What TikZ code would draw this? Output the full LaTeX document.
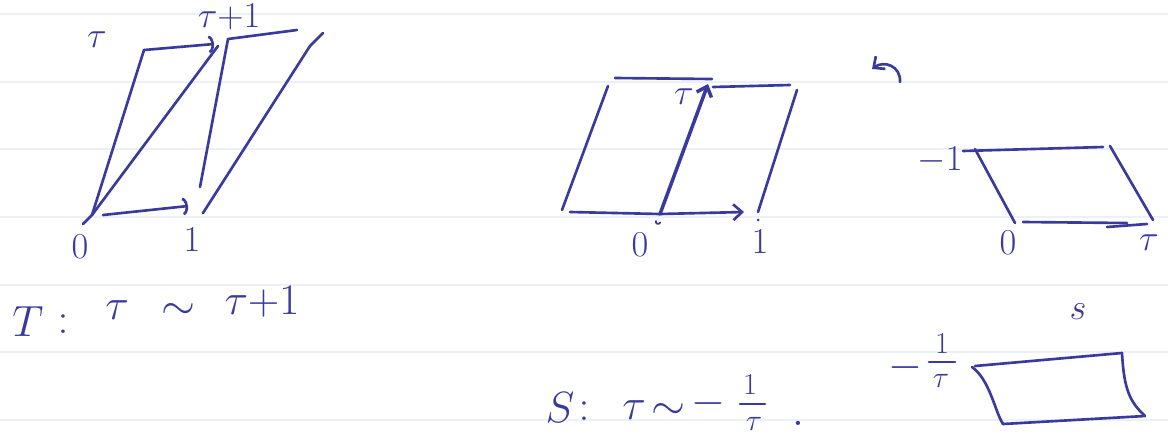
\documentclass[tikz,border=0pt]{standalone}
\usetikzlibrary{arrows.meta}
\definecolor{ink}{RGB}{58,58,158}
\definecolor{ruleline}{RGB}{236,241,247}
\begin{document}
\begin{tikzpicture}[x=0.02cm,y=-0.02cm,
  pen/.style={draw=ink,line width=1.5pt,line cap=round,line join=round},
  arcTip/.style={-{Arc Barb[length=3pt,width=10pt]}},
  barbTip/.style={-{Straight Barb[length=5pt,width=9pt]}},
  lbl/.style={text=ink,inner sep=0pt,font=\fontsize{20}{24}\selectfont},
  sml/.style={text=ink,inner sep=0pt,font=\fontsize{18}{20}\selectfont},
  big/.style={text=ink,inner sep=0pt,font=\fontsize{24}{28}\selectfont}]
\useasboundingbox (0,0) rectangle (1168,443);
\fill[white] (0,0) rectangle (1168,443);
\foreach \y in {14,82,149,217,285,352,420}
  \draw[ruleline,line width=0.8pt] (0,\y) -- (1168,\y);

% ---------- left figure ----------
\coordinate (LA) at (92,215);
\coordinate (LB) at (144,50);
\coordinate (LC) at (214,44);
\coordinate (LD) at (218,46);
\coordinate (LE) at (228,39);
\coordinate (LF) at (200,187);
\coordinate (LG) at (297,30);
\coordinate (LH) at (203,213);
\coordinate (LI) at (310,46);
\coordinate (LJ) at (323,33);
\coordinate (LK) at (103,215);
\coordinate (LL) at (188,206);
\coordinate (LT) at (83,224);
\draw[pen] (LT) -- (LA) -- (LB);
\draw[pen,arcTip] (LB) -- (LC);
\draw[pen] (LA) -- (LD);
\draw[pen] (LF) -- (LE) -- (LG);
\draw[pen] (LH) -- (LI) -- (LJ);
\draw[pen,arcTip] (LK) -- (LL);
\node[lbl] (ltau) at (97,40) {$\tau$};
\node[lbl] (ltau1) at (229,17) {$\tau{+}1$};
\node[lbl] (l0) at (80,247) {$0$};
\node[lbl] (l1) at (192,240) {$1$};

% ---------- middle figure ----------
\coordinate (MA) at (562,210);
\coordinate (MB) at (608,86);
\coordinate (MC) at (615,78);
\coordinate (MD) at (712,79);
\coordinate (ME) at (570,212);
\coordinate (MF) at (660,214);
\coordinate (MG) at (744,212);
\coordinate (MH) at (708,84);
\coordinate (MI) at (713,87);
\coordinate (MJ) at (790,85);
\coordinate (MK) at (797,90);
\coordinate (ML) at (758,212);
\draw[pen] (MA) -- (MB);
\draw[pen] (MC) -- (MD);
\draw[pen] (ME) -- (MF);
\draw[pen,barbTip] (MF) -- (MG);
\draw[pen,barbTip,line width=2pt] (MF) -- (MH);
\draw[pen] (MI) -- (MJ);
\draw[pen] (MK) -- (ML);
\draw[pen,line width=1pt] (656,221) arc[start angle=200,end angle=20,radius=2.2];
\fill[ink] (758,220) circle[radius=1.5];
\node[lbl] (mtau) at (684,97) {$\tau$};
\node[lbl] (m0) at (640,245) {$0$};
\node[lbl] (m1) at (760,242) {$1$};

% ---------- right figure ----------
\coordinate (RA0) at (900,82);
\coordinate (RA1) at (872,69);
\draw[pen,barbTip] (RA0) .. controls (901,66) and (884,60) .. (RA1);
\coordinate (RA) at (963,151);
\coordinate (RB) at (1103,147);
\coordinate (RC) at (975,149);
\coordinate (RD) at (1015,223);
\coordinate (RE) at (1110,146);
\coordinate (RF) at (1153,220);
\coordinate (RG) at (1023,222);
\coordinate (RH) at (1127,223);
\coordinate (RI) at (1107,227);
\coordinate (RJ) at (1147,224);
\draw[pen] (RA) -- (RB);
\draw[pen] (RC) -- (RD);
\draw[pen] (RE) -- (RF);
\draw[pen] (RG) -- (RH);
\draw[pen] (RI) -- (RJ);
\node[lbl] (rm1) at (940,160) {$-1$};
\node[lbl] (r0) at (1008,243) {$0$};
\node[lbl] (rtau) at (1149,243) {$\tau$};

% ---------- T formula ----------
\node[big] (tT) at (28,322) {$T$};
\node[big] (tcolon) at (63,324) {$:$};
\node[big] (ttau) at (117,310) {$\tau$};
\node[big] (tsim) at (178,311) {$\sim$};
\node[big] (ttau1) at (262,302) {$\tau{+}1$};

% ---------- S formula ----------
\node[big] (sS) at (560,408) {$S$};
\node[big] (scolon) at (584,411) {$:$};
\node[big] (stau) at (634,410) {$\tau$};
\node[big] (ssim) at (668,411) {$\sim$};
\node[big] (sminus) at (708,404) {$-$};
\node[sml] (snum) at (750,385) {$1$};
\coordinate (sbarL) at (740,404);
\coordinate (sbarR) at (765,404);
\draw[pen] (sbarL) -- (sbarR);
\node[sml] (sden) at (754,424) {$\tau$};
\node[big] (sdot) at (798,423) {$.$};

% ---------- bottom right ----------
\node[lbl] (bs) at (1078,312) {$s$};
\node[big] (bminus) at (905,368) {$-$};
\node[sml] (bnum) at (942,344) {$1$};
\coordinate (bbarL) at (929,362);
\coordinate (bbarR) at (955,362);
\draw[pen] (bbarL) -- (bbarR);
\node[sml] (bden) at (941,381) {$\tau$};
\coordinate (BA) at (972,367);
\coordinate (BB) at (1122,353);
\coordinate (BC) at (1003,424);
\coordinate (BD) at (1145,416);
\draw[pen] (975,366) -- (BB);
\draw[pen] (BA) .. controls (990,380) and (995,412) .. (BC);
\draw[pen] (BC) -- (BD);
\draw[pen] (BB) .. controls (1124,390) and (1130,402) .. (BD);
\end{tikzpicture}
\end{document}
